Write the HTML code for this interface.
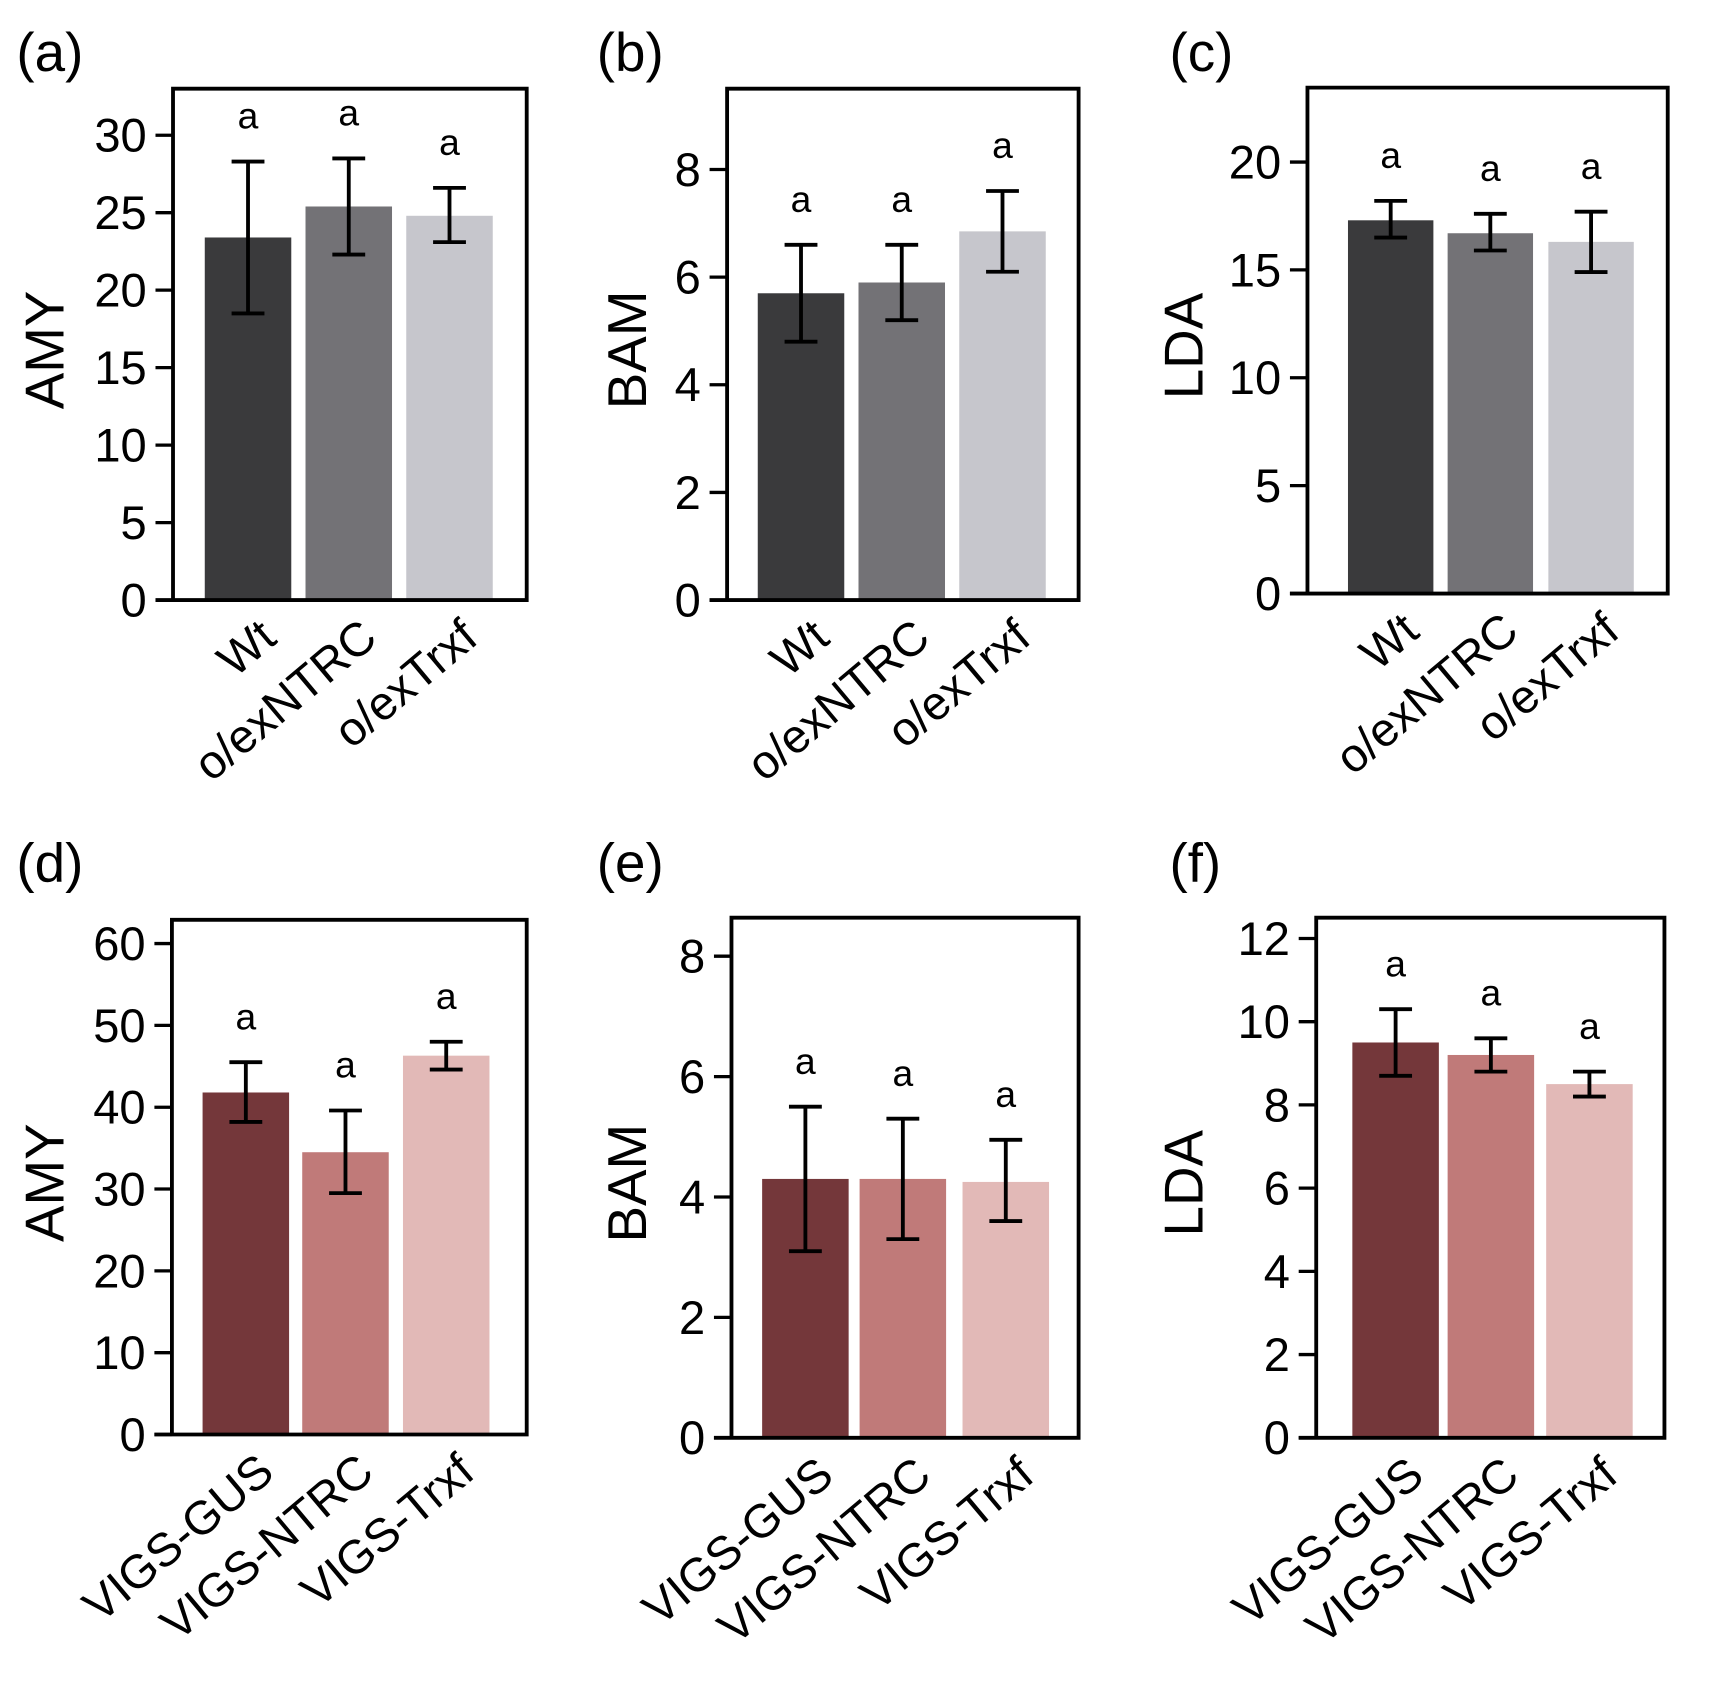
<!DOCTYPE html>
<html><head><meta charset="utf-8"><style>
html,body{margin:0;padding:0;background:#fff;}
svg{display:block;}
text{font-family:"Liberation Sans",Arial,sans-serif;fill:#000;}
</style></head>
<body>
<svg id="fig" width="1717" height="1682" viewBox="0 0 1568 1536" xmlns="http://www.w3.org/2000/svg"></svg>
<script>
// ---- data ----
const catsTop = ["Wt", "o/exNTRC", "o/exTrxf"];
const catsBottom = ["VIGS-GUS", "VIGS-NTRC", "VIGS-Trxf"];
const valsA = [23.4, 25.4, 24.8];
const lowA = [18.5, 22.3, 23.1];
const highA = [28.3, 28.5, 26.6];
const valsB = [5.7, 5.9, 6.85];
const lowB = [4.8, 5.2, 6.1];
const highB = [6.6, 6.6, 7.6];
const valsC = [17.3, 16.7, 16.3];
const lowC = [16.5, 15.9, 14.9];
const highC = [18.2, 17.6, 17.7];
const valsD = [41.8, 34.5, 46.3];
const lowD = [38.2, 29.5, 44.6];
const highD = [45.5, 39.6, 48.0];
const valsE = [4.3, 4.3, 4.25];
const lowE = [3.1, 3.3, 3.6];
const highE = [5.5, 5.3, 4.95];
const valsF = [9.5, 9.2, 8.5];
const lowF = [8.7, 8.8, 8.2];
const highF = [10.3, 9.6, 8.8];
const ticksA = [0, 5, 10, 15, 20, 25, 30];
const ticksB = [0, 2, 4, 6, 8];
const ticksC = [0, 5, 10, 15, 20];
const ticksD = [0, 10, 20, 30, 40, 50, 60];
const ticksE = [0, 2, 4, 6, 8];
const ticksF = [0, 2, 4, 6, 8, 10, 12];
const lettersAll = ["a", "a", "a"];

const grey = ["#3a3a3c", "#737276", "#c6c6cc"];
const red = ["#74373a", "#c07a79", "#e2b9b7"];

const panels = [
 {id:"a", label:"(a)", title:"AMY", cats:catsTop, v:valsA, lo:lowA, hi:highA, ticks:ticksA, max:33, L:158, R:481, T:81, B:548, bars:[187,279,371], bw:79, col:grey, lx:15, ly:65, tx:40},
 {id:"b", label:"(b)", title:"BAM", cats:catsTop, v:valsB, lo:lowB, hi:highB, ticks:ticksB, max:9.5, L:664, R:985, T:81, B:548, bars:[692,784,876], bw:79, col:grey, lx:545, ly:65, tx:572},
 {id:"c", label:"(c)", title:"LDA", cats:catsTop, v:valsC, lo:lowC, hi:highC, ticks:ticksC, max:23.45, L:1194, R:1523, T:80, B:542, bars:[1231,1322,1414], bw:78, col:grey, lx:1068, ly:65, tx:1080},
 {id:"d", label:"(d)", title:"AMY", cats:catsBottom, v:valsD, lo:lowD, hi:highD, ticks:ticksD, max:62.9, L:157, R:481, T:840, B:1310, bars:[185,276,368], bw:79, col:red, lx:15, ly:805, tx:40},
 {id:"e", label:"(e)", title:"BAM", cats:catsBottom, v:valsE, lo:lowE, hi:highE, ticks:ticksE, max:8.64, L:668, R:985, T:838, B:1313, bars:[696,785,879], bw:79, col:red, lx:545, ly:805, tx:572},
 {id:"f", label:"(f)", title:"LDA", cats:catsBottom, v:valsF, lo:lowF, hi:highF, ticks:ticksF, max:12.5, L:1202, R:1520, T:838, B:1313, bars:[1235,1322,1412], bw:79, col:red, lx:1068, ly:805, tx:1080}
];

const NS = "http://www.w3.org/2000/svg";
const svg = document.getElementById("fig");
function mk(tag, attrs, parent){
  const e = document.createElementNS(NS, tag);
  for (const k in attrs) e.setAttribute(k, attrs[k]);
  (parent||svg).appendChild(e);
  return e;
}

panels.forEach(p => {
  const g = mk("g", {});
  
  
  const y = v => p.B - (v / p.max) * (p.B - p.T);

  const pl = mk("text", {x:p.lx, y:p.ly, "font-size":50}, g);
  pl.textContent = p.label;
  
  

  p.v.forEach((v, i) => {
    const x = p.bars[i];
    const r = mk("rect", {x:x, y:y(v), width:p.bw, height:p.B - y(v), fill:p.col[i]}, g);
    
    
    const cx = x + p.bw/2;
    const eg = mk("g", {stroke:"#000", "stroke-width":3.5, fill:"none"}, g);
    
    
    mk("line", {x1:cx, x2:cx, y1:y(p.hi[i]), y2:y(p.lo[i])}, eg);
    mk("line", {x1:cx-15, x2:cx+15, y1:y(p.hi[i]), y2:y(p.hi[i])}, eg);
    mk("line", {x1:cx-15, x2:cx+15, y1:y(p.lo[i]), y2:y(p.lo[i])}, eg);
    const lt = mk("text", {x:cx, y:y(p.hi[i]) - 30, "font-size":34, "text-anchor":"middle"}, g);
    lt.textContent = lettersAll[i];
    
    
    const xl = mk("text", {"font-size":43, "text-anchor":"end",
      transform:"translate(" + (cx + 28) + "," + (p.B + 38) + ") rotate(-40)"}, g);
    xl.textContent = p.cats[i];
    
    
  });

  const fr = mk("path", {d:"M" + p.L + "," + p.B + " V" + p.T + " H" + p.R + " V" + p.B + " H" + (p.L - 16),
    fill:"none", stroke:"#000", "stroke-width":3.5}, g);
  
  

  p.ticks.forEach(t => {
    const ty = y(t);
    const tl = mk("line", {x1:p.L - 16, x2:p.L, y1:ty, y2:ty, stroke:"#000", "stroke-width":3}, g);
    
    
    const tt = mk("text", {x:p.L - 24, y:ty + 15, "font-size":43, "text-anchor":"end"}, g);
    tt.textContent = t;
    
    
  });

  const mid = (p.T + p.B) / 2 + 5;
  const yt = mk("text", {"font-size":50, "text-anchor":"middle",
    transform:"translate(" + (p.tx + 18) + "," + mid + ") rotate(-90)"}, g);
  yt.textContent = p.title;
  
  
});
</script>
</body></html>
